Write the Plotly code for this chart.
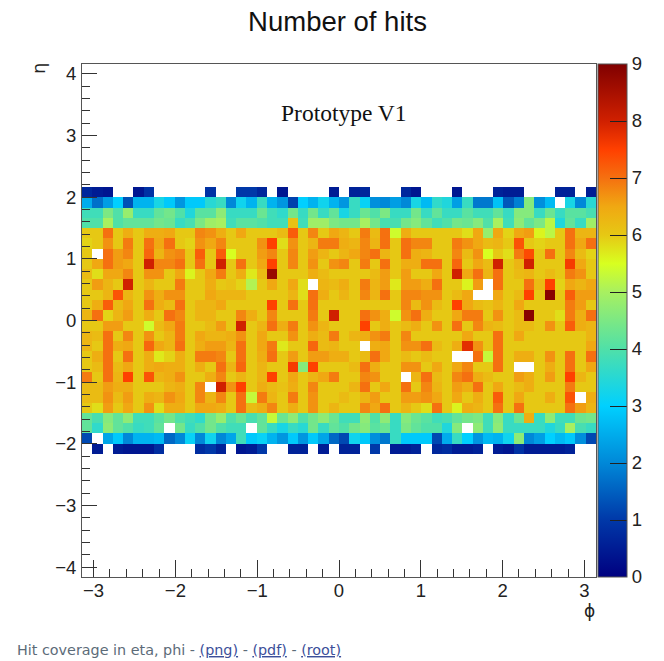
import math
import numpy as np
import plotly.graph_objects as go

N = None
phi_edges = np.linspace(-math.pi, math.pi, 51)
eta_edges = np.linspace(-4.16, 4.16, 51)

# rows from top (eta ~ 2.1) to bottom (eta ~ -2.1)
r12 = [.7,.5,.4,N,N,.4,.9,N,N,N,N,N,.9,N,N,1,1,.7,N,.4,N,N,N,N,.5, N,.6,.7,N,N,N,.7,.4,N,N,N,.4,N,N,N,.6,.5,.5,N,N,N,.6,.6,N,.5]
r13 = [2.5,1.7,2.3,3,1.3,2.6,2.6,3.3,2.9,2.2,2.9,2.9,3.5,3.7,2,3.2,2.6,3.7,2.6,2.2,1.1,3,2.6,3.2,2.6, 2.2,3.7,3.1,2.1,2,2.3,2,3.3,2.7,3.6,3.4,2.3,3.7,1.8,1.8,2.8,1.4,1.9,4.6,2.1,2.7,N,3.3,2,3.5]
r14 = [3.8,3.8,4.5,4,4.8,3.7,3.7,4.2,4.4,4,3.4,4.1,4.1,4.7,3.7,3.7,3.7,4.3,3.8,3.6,4.4,3.7,4.4,3.7,4.2, 3.3,3.7,4.3,4,4.5,3.7,3.7,4.4,3.7,4.2,3.7,3.7,4.1,3.8,3.8,4.2,3.7,4.6,4.6,3.7,4.3,3.7,4.1,4.1,3.9]
r15 = [4,4,5,4,4.2,4.2,4.2,4.4,4.3,3.7,3.9,4.5,4.9,5,3.8,4.1,4.1,4,3.8,3.8,6.1,3.8,4.9,4.9,4.5, 4.4,4.4,5,4.4,3.9,3.9,4.4,4.6,4.2,3.8,4,4.4,4.3,4.6,4,5,3.8,4.7,4.2,4.5,5.2,3.4,4.2,3.7,4.9]
r16 = [6,6,7,6,6.4,6,6.4,6.4,6.5,6,6,6.8,6.7,6.4,6,6.5,6,6,6,6.2,7.2,6,6.8,6,6.5, 6.3,6,6.9,6.2,7,5.4,6.4,6,6,6,6,6,5.8,6.5,4.8,6.5,5.9,6.5,6.6,5.6,5.2,6,7,6.3,6.3]
r17 = [5.9,6,6.7,6,6.9,6,7,6.5,7,6,5.9,6.7,6.5,6.8,6,6,6,6.7,7.5,5.8,6.7,6,6.3,6.9,6.9, 6.4,6.3,6.8,6.3,7,6,7,6.8,6.8,6,6,6.9,6.7,6.5,6.2,6.3,6,7.3,6,5.9,6,6,7,6.5,7]
r18 = [6,N,7,6.6,6.8,6,7.1,6.3,6.7,6.8,6,7.2,6,7.2,5.5,6,6,6.6,6.8,6,6.8,6,6.6,6.3,6, 6.3,6.5,6.8,7,6.3,6,7,6.4,6.3,6,6,6.8,6.2,6.7,5.5,6,5.8,6.9,7.4,6,7,6,6.8,6.2,5.9]
r19 = [6,6.5,7,6.6,6.5,6,8,6.8,6.8,7,6,7,6,8,6,7,6,6.5,7.5,6,6.8,6,6.7,6,6.7, 6.8,6,6.9,6,7,6,6.4,6.4,7,7,6,7.1,6,6.5,6.2,8,6,6.3,8,6,6,6,7.6,6.5,6]
r20 = [6.2,5.8,6.5,6.5,6.8,6,6.7,6.7,6,6.5,5.6,6,6.5,6.9,6,6.4,5.7,6.2,8.7,6,6,6,6.4,6.2,6, 6,6,6,6.2,6.6,6,6.6,6,6,6.5,6,8,6.5,7,6.3,7,6,6.2,6.3,6,6.2,6,6.9,6.7,6]
r21 = [6,6.6,6.3,6,8,6,6.3,6,6,6.9,6,6,6.4,6,6.1,5.9,5.1,6,6.5,6,6.5,5.8,N,6.3,6.2, 6.4,6,6.9,6.3,6.6,5.7,6.6,6.6,6.4,7,6,6,5.6,6.6,N,7,6,6,7,6.2,7.5,5.9,6.5,6.3,6.5]
r22 = [6,6,6.3,7.3,6.3,6,6.7,6.4,6.7,6.7,6,6,6.5,6.3,6.3,6.3,6,6,6,6,6.3,5.8,7,6.4,6, 6.3,6,6.8,6.3,7,6,6.8,6.8,6.7,6.7,6,6.2,6.5,N,N,6.5,6,6.2,7.5,6,8.9,6,7.2,6.6,6.6]
r23 = [6,6.4,7.2,6.2,6.5,6,7,6.4,6.2,7,6,6.3,6.3,6.5,6,6,6,6,7.5,6,7,6,7,6,6, 6,6,6,6,6,6,6.8,6.2,6.7,6.2,6,7.5,6.5,6.2,6.1,6.3,6,6.5,6,6,6,6,6.9,6.6,6]
r24 = [6.3,7,5.9,6.3,6.6,6,6.4,6,7,6.8,6,6.3,6.3,6,6,6.8,6.4,6,6.8,6,6,6,6.9,6,8, 6,6,7,6.7,6.4,5.4,6.7,7,6.4,6,6,6.5,6.9,6.9,6,6.7,6,6.2,8.9,6,6,5.8,6.9,6.4,7]
r25 = [6,6,6.6,6.6,6,6,5.4,6.2,6.5,6.9,6,6,6.2,6.6,6,8,6,6.3,7,6.4,6.9,6,6.7,6.3,6, 6,6,7.5,6,6.4,6,6.2,6.4,6,6.7,6,7,6,6.8,6.3,6.2,6,6.2,6.2,6,6.7,6,7.2,6.4,6.3]
r26 = [6.3,6.2,7,6,6.8,6,6.7,6,6.3,6.9,6,6.5,6.3,6.3,6.4,6.7,6,6.5,6,6,6.7,6,6.4,6.2,6.9, 6,6.3,6.4,6.7,6.9,6,6.8,6,6,6,6,6,6.5,6,6,7,6,6.5,6,6,6,6,6,6,6.3]
r27 = [6.3,6,7,6.4,6.5,6,7.1,6.5,6.3,7,6,6.4,6.6,6.6,6.3,7,6,6.5,6.9,5.7,6,6,7.1,6.2,6.3, 6,6,N,6.4,6.5,6,6.7,6.7,7,6.2,6,6.4,7.8,6.7,6,7,6,6,6,6,6,6,6,6,6.5]
r28 = [6,6.4,7,6,7,6,6.4,5.7,5.9,6.4,6,6.9,6.9,6.8,6,7,6,6.4,7,6,6.6,6,6.6,6.6,6.4, 6.4,6,6.2,7,6.5,6,6.2,6,6.2,6,6,N,N,7,5.3,7,6,6.4,6.4,6,6.7,6,7,6,7]
r29 = [6,6.2,7,6.2,6.5,6,6.4,6.5,6.4,6.4,6,6.4,6,7,6.3,7.1,6,6.3,6,6,7.6,4.6,7.5,6,6, 6,6.2,7,6.4,6,6,6.7,6.7,6,6.5,6,6.5,6.8,6,6,7,6,N,N,6,6.4,6,7,6,6.5]
r30 = [6.9,6,7,6.3,7.5,6,7.3,6.3,6.4,6.7,6,6,6.4,6.8,6,6.3,6,6.3,7.5,6,6.5,6,6.3,6.5,6.9, 6,6,6.8,6.7,6,6,N,6.3,7,6.2,6,6.8,7,6.4,6.2,6,6,6.6,6.4,6,6.6,6,7.5,6.3,6]
r31 = [6.2,6.2,6.6,6.4,6.4,6,6,6,6.3,6.4,6,6.8,N,8,6.7,7.5,6,6.4,6.2,6.1,6.4,6,6.8,6,6, 6,6.3,7,6,6.5,6,7,6,6.8,6.3,6,6.6,6.4,7,6,6.5,6,6.2,6.4,6,6,6,6.9,6,6]
r32 = [6.2,6.2,6.7,6.2,6.6,6,6.4,6.3,6.7,6.5,6,6.8,6.3,6.8,6,7,5.3,6.9,6.3,6,6.9,6,6.7,6,6, 6.2,6,6.3,6.6,6,6,6.6,6.6,6.7,6.5,6,6.5,6,6.4,6,7.2,6,6.5,6,6,6.4,6,7.3,N,6.4]
r33 = [6,5.8,6.6,6,6.5,6,6.7,5.8,6.4,6.4,6,6.5,6.5,6.4,6,7,6.2,6.4,6.8,6,6.4,6,6.7,6,6.3, 6,6,6.8,6.5,7,6,6.3,6,5.8,7,6,5.6,6.4,6.3,6,7,6,7,6,6,6,6,7,6.6,6.3]
r34 = [4.2,3.9,4.6,4.2,4.7,3.8,3.8,4.1,4.4,4,3.8,3.6,4.4,4.8,4,4.3,3.9,4.2,5.3,4.3,4.7,4,4.4,4.7,4.3, 3.8,3.8,4.7,4,4.7,3.7,4.6,4.3,4.1,3.8,3.9,4.2,4.4,4.5,3.8,4.6,3.7,4.3,6.4,3.7,4.7,3.8,3.8,4.3,4.4]
r35 = [4.2,3.6,4.7,4.2,4,3.7,3.8,4.2,N,4.4,3.7,4,4.4,4,3.8,3.8,N,4.2,3.7,3.3,3.7,3.5,4.4,3.7,4.2, 4,4.4,4.6,4.1,4.3,3.7,4.5,4.2,4,4,3.4,4.6,N,4.7,3.8,4.7,3.7,3.7,3.7,3.7,3.4,3.7,5,3.9,3.7]
r36 = [1.2,N,2.4,2.9,2,2.6,2.6,2.7,1.6,2,3.1,2,3.2,2,2.4,3.8,2.9,3.1,2.6,2.2,2.9,2.2,2.9,2.4,1.6, 1.2,3.2,2.9,2.1,1.8,3.7,2.9,2.9,2.9,1.2,2.5,3.7,3,2.2,2.7,2.6,3.2,4.7,2,2.3,3,2.7,2.9,2.1,1.2]
r37 = [N,.5,N,.5,.4,.4,.4,.8,N,N,N,.8,1,.6,N,.4,.5,1,N,N,.6,.6,N,.5,N, .6,.6,N,1,N,.5,.5,.6,N,.7,.8,.5,.5,.6,N,.5,.4,.9,.5,.5,.5,.5,.6,N,N]

rows = [r12,r13,r14,r15,r16,r17,r18,r19,r20,r21,r22,r23,r24,r25,r26,r27,r28,r29,r30,r31,r32,r33,r34,r35,r36,r37]
for i, r in enumerate(rows):
    assert len(r) == 50, (i + 12, len(r))

empty = [[N] * 50 for _ in range(12)]
z = empty + rows[::-1] + empty

stops = [(0, "#000080"), (1, "#0038a8"), (2, "#0088d8"), (3, "#00d0ff"), (4, "#50e0a8"),
         (5, "#a8f060"), (5.5, "#d8ff20"), (6, "#e6c814"), (6.5, "#f0a812"), (7, "#f57010"),
         (7.5, "#ff4000"), (8, "#d02000"), (9, "#800000")]
colorscale = [[v / 9, c] for v, c in stops]

W, H = 664, 661
L, R, T, B = 81.5, 596, 63.5, 577
axis_col = "#555555"
font = "Liberation Sans"

def px(x):
    return (x - L) / (R - L)

def py(y):
    return (B - y) / (B - T)

fig = go.Figure(go.Heatmap(
    x=phi_edges, y=eta_edges, z=z, zmin=0, zmax=9, colorscale=colorscale,
    hoverongaps=False,
    colorbar=dict(x=px(598.5), xanchor="left", xref="paper", y=0, yanchor="bottom", yref="paper",
                  len=1, lenmode="fraction", thickness=29, thicknessmode="pixels",
                  xpad=0, ypad=0, outlinecolor=axis_col, outlinewidth=1, borderwidth=0,
                  tickmode="linear", tick0=0, dtick=1, ticks="inside", ticklen=17,
                  tickcolor="#222222", tickwidth=1,
                  tickfont=dict(family=font, size=18.5, color="#222222")),
))

axis = dict(showgrid=False, zeroline=False, showline=True, mirror=True, linecolor=axis_col, linewidth=1,
            ticks="inside", tickcolor="#333333", tickwidth=1, dtick=1, tick0=0,
            tickfont=dict(family=font, size=18.5, color="#222222"))

footer = ("Hit coverage in eta, phi - "
          "<span style='color:#3c4f9a'><u>(png)</u></span> - "
          "<span style='color:#3c4f9a'><u>(pdf)</u></span> - "
          "<span style='color:#3c4f9a'><u>(root)</u></span>")

fig.update_layout(
    width=W, height=H, paper_bgcolor="white", plot_bgcolor="white",
    margin=dict(l=L, r=W - R, t=T, b=H - B, pad=0, autoexpand=False),
    title=dict(text="Number of hits", x=337.5 / W, xref="container", xanchor="center",
               y=1 - 21 / H, yref="container", yanchor="middle",
               font=dict(family=font, size=27.5, color="#111111")),
    xaxis=dict(axis, range=[-math.pi, math.pi], ticklen=17, ticklabelstandoff=-3,
               minor=dict(dtick=.2, ticks="inside", ticklen=8, tickcolor="#333333", tickwidth=1, showgrid=False)),
    yaxis=dict(axis, range=[-4.16, 4.16], ticklen=15, ticklabelstandoff=1,
               minor=dict(dtick=.2, ticks="inside", ticklen=8, tickcolor="#333333", tickwidth=1, showgrid=False)),
    annotations=[
        dict(text="Prototype V1", x=px(344), y=py(113), xref="paper", yref="paper", showarrow=False,
             xanchor="center", yanchor="middle",
             font=dict(family="Liberation Serif", size=23.5, color="#111111")),
        dict(text="η", x=px(38), y=py(68), xref="paper", yref="paper", showarrow=False, textangle=-90,
             xanchor="center", yanchor="middle",
             font=dict(family="DejaVu Sans", size=18, color="#222222")),
        dict(text="ϕ", x=px(589.5), y=py(611), xref="paper", yref="paper", showarrow=False,
             xanchor="center", yanchor="middle",
             font=dict(family="DejaVu Sans", size=17, color="#222222")),
        dict(text=footer, x=px(14), y=py(650), xref="paper", yref="paper", showarrow=False,
             xanchor="left", yanchor="middle",
             font=dict(family="DejaVu Sans", size=14.35, color="#5c6b78")),
    ],
)

fig.write_html("out.html", config={"displayModeBar": False},
               post_script="document.body.style.margin='0';document.documentElement.style.overflow='hidden';")
